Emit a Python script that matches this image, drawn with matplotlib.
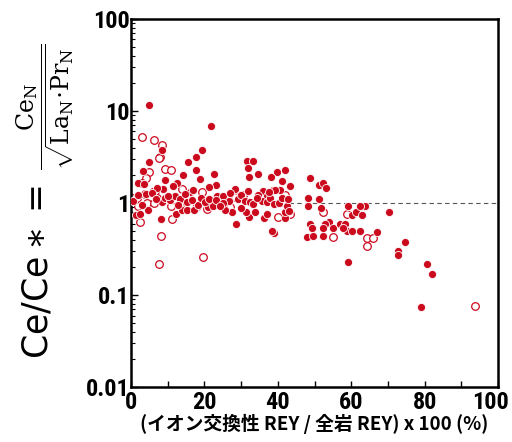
import matplotlib
matplotlib.use("Agg")
import matplotlib.pyplot as plt
import matplotlib.transforms as mtransforms
from matplotlib.ticker import NullFormatter, LogLocator
import numpy as np

# filled symbols (x = ion-exchangeable REY / bulk REY * 100, y = Ce/Ce*)
filled_x = [5.0, 21.9, 19.4, 17.6, 15.6, 17.7, 4.9, 8.3, 3.2, 31.6, 33.3, 31.9, 34.5, 32.0,
            42.0, 39.7, 38.2, 41.2, 43.3, 48.7, 51.3, 52.4, 53.1, 14.2, 22.6, 23.2, 21.3,
            18.8, 9.3, 12.4, 11.3, 8.8, 2.0, 3.6, 16.1, 28.2, 31.8, 36.0, 36.9, 38.7, 48.3,
            51.3, 59.2, 60.1, 61.2, 62.9, 63.7, 62.3, 70.2, 48.3, 51.7, 54.0, 52.8, 55.1,
            48.7, 49.2, 47.8, 49.6, 52.2, 52.2, 56.9, 58.4, 58.7, 60.3, 62.3, 66.9, 57.8,
            74.6, 72.6, 72.8, 59.2, 80.6, 82.1, 79.1, 8.2, 28.5, 38.9, 38.4, 32.1, 36.3,
            31.2, 33.7, 37.0, 41.9, 41.9, 27.6, 25.6, 12.2, 1.4, 2.4, 4.5, 13.8, 15.3,
            17.2, 18.3, 20.9, 22.4, 0.4, 2.0, 4.1, 6.1, 8.4, 9.3, 10.6, 11.9, 13.3, 15.2,
            16.5, 19.0, 20.1, 21.2, 23.5, 25.1, 26.8, 29.2, 29.9, 30.9, 32.4, 33.3, 34.7,
            35.6, 36.9, 37.8, 38.9, 40.4, 41.0, 42.5, 43.1, 40.6, 39.3, 37.5, 23.1, 25.0,
            16.9, 7.0, 10.0, 12.8, 14.8, 24.2, 27.0, 30.0, 34.2, 42.8, 3.0, 5.6, 6.8]
filled_y = [11.6, 6.8, 3.8, 3.15, 2.8, 2.3, 2.8, 3.8, 2.25, 2.9, 2.9, 2.4, 2.07, 1.92,
            2.27, 2.18, 1.9, 1.75, 1.52, 1.86, 1.57, 1.64, 1.45, 2.04, 2.09, 1.57, 1.5,
            1.83, 1.77, 1.65, 1.55, 1.42, 1.65, 1.61, 1.32, 1.43, 1.34, 1.34, 1.18, 1.4, 1.15,
            1.1, 0.94, 0.75, 0.81, 0.75, 0.92, 0.92, 0.8, 0.92, 0.88, 0.63, 0.6, 0.54,
            0.59, 0.53, 0.43, 0.44, 0.44, 0.54, 0.59, 0.59, 0.5, 0.5, 0.5, 0.48, 0.54,
            0.38, 0.30, 0.27, 0.23, 0.22, 0.168, 0.075, 0.67, 0.6, 0.47, 0.5, 0.70, 0.69,
            0.8, 0.8, 0.77, 0.69, 0.8, 0.81, 0.85, 0.77, 0.75, 0.77, 0.84, 0.84, 0.84,
            0.84, 0.96, 0.9, 0.94, 1.06, 1.21, 1.25, 1.34, 1.04, 1.15, 1.09, 1.18, 1.11, 1.02,
            1.09, 1.13, 1.04, 1.11, 1.2, 1.2, 1.06, 1.11, 1.23, 1.06, 1.04, 0.98, 1.21,
            1.06, 1.04, 1.15, 0.98, 1.0, 1.13, 0.94, 0.82, 1.4, 1.39, 1.32, 1.09, 1.0,
            1.4, 1.45, 1.2, 0.95, 1.25, 0.92, 1.28, 0.88, 1.15, 1.1, 0.95, 1.3, 1.1]

# open symbols
open_x = [3.0, 6.3, 8.3, 7.9, 7.5, 4.9, 9.3, 10.8, 4.0, 3.1, 6.5, 13.8, 19.3, 41.9, 1.5,
          3.8, 4.3, 6.3, 2.0, 10.8, 17.9, 20.6, 28.3, 30.6, 41.2, 39.9, 43.3, 52.4, 58.9,
          55.0, 64.2, 65.8, 64.3, 2.3, 11.1, 8.1, 7.7, 19.7, 93.7, 0.2, 7.0, 13.3, 27.0]
open_y = [5.2, 4.9, 4.3, 3.15, 3.1, 2.16, 2.35, 2.27, 1.87, 1.65, 1.34, 1.42, 1.32, 1.21,
          1.15, 1.25, 1.0, 1.0, 0.92, 0.92, 0.94, 0.87, 1.16, 1.23, 1.04, 0.71, 0.76, 0.81,
          0.77, 0.43, 0.42, 0.42, 0.34, 0.62, 0.67, 0.44, 0.216, 0.26, 0.076, 1.13, 1.15,
          0.96, 0.9]

red = '#cc0a1e'

plt.rcParams['mathtext.fontset'] = 'custom'
plt.rcParams['mathtext.rm'] = 'DejaVu Serif'
plt.rcParams['mathtext.sf'] = 'DejaVu Sans'

fig = plt.figure(figsize=(5.12, 4.42), dpi=100)
ax = fig.add_axes([0.256, 0.124, 0.717, 0.833])

ax.plot([43, 100], [1, 1], ls='--', color='#555555', lw=0.8, dashes=(4, 3), zorder=1)
ax.scatter(open_x, open_y, s=30, facecolor='white', edgecolor=red, linewidth=0.9, zorder=2)
ax.scatter(filled_x, filled_y, s=34, facecolor=red, edgecolor='white', linewidth=0.6, zorder=3)

ax.set_yscale('log')
ax.set_xlim(0, 100)
ax.set_ylim(0.01, 100)

tick_font = dict(family=['Roboto Condensed', 'Liberation Sans'], weight='bold', size=17.5)
ax.set_xticks(np.arange(0, 101, 10))
ax.set_xticklabels([str(v) if v % 20 == 0 else '' for v in range(0, 101, 10)], **tick_font)
ax.set_yticks([0.01, 0.1, 1, 10, 100])
ax.set_yticklabels(['0.01', '0.1', '1', '10', '100'], **tick_font)
ax.yaxis.set_minor_locator(LogLocator(base=10, subs=np.arange(2, 10)))
ax.yaxis.set_minor_formatter(NullFormatter())
ax.tick_params(axis='both', which='both', direction='in', top=False, right=False)
ax.tick_params(axis='x', which='major', length=4, width=1, pad=3)
ax.tick_params(axis='y', which='major', length=5, width=1, pad=1)
ax.tick_params(axis='y', which='minor', length=3, width=0.8)
for sp in ax.spines.values():
    sp.set_linewidth(1.8)

# the last x label sits a bit left of its tick, as in the original
last = ax.get_xticklabels()[-1]
last.set_transform(last.get_transform() +
                   mtransforms.ScaledTranslation(-8 / 100, 0, fig.dpi_scale_trans))

ax.set_xlabel('(イオン交換性 REY / 全岩 REY) x 100 (%)',
              family=['Noto Sans CJK JP', 'DejaVu Sans'], weight='bold', fontsize=13.5,
              labelpad=0)

# y label in two parts: "Ce/Ce* =" and the serif fraction
fig.text(38 / 512, 1 - 272 / 442, r'$\mathsf{Ce/Ce}\ast=$', rotation=90,
         ha='center', va='center', fontsize=25)
fig.text(45 / 512, 1 - 107 / 442,
         r'$\dfrac{\mathrm{Ce_N}}{\sqrt{\mathrm{La_N{\cdot}Pr_N}}}$', rotation=90,
         ha='center', va='center', fontsize=17)

fig.savefig('out.png', dpi=100)
